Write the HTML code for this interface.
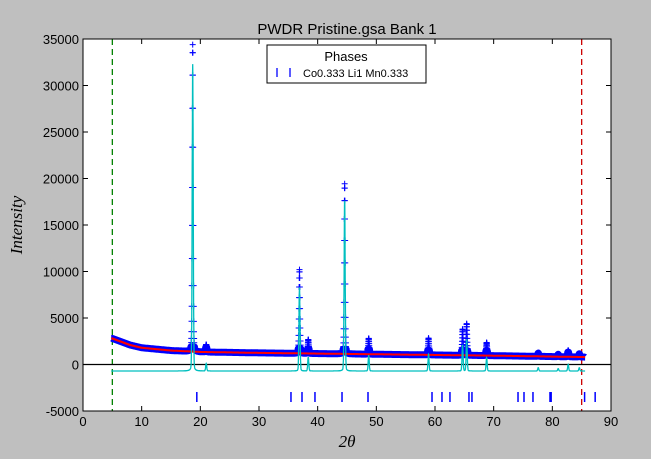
<!DOCTYPE html>
<html><head><meta charset="utf-8"><style>
body{margin:0;background:#bfbfbf;width:651px;height:454px;overflow:hidden}
svg text{font-family:"Liberation Sans",sans-serif}
</style></head><body>
<svg id="c" width="651" height="454"></svg>
<script>
const peakPos=[18.7,21.0,36.9,38.4,44.6,48.7,58.9,64.7,65.4,68.8,77.6,81.0,82.7,84.6];
const peakInt=[33000,800,9000,1500,18300,1700,1800,2800,3400,1400,350,250,700,350];
const bkgX=[5,8,10,15,20,30,50,70,85.5];
const bkgY=[2800,2100,1800,1500,1350,1250,1100,950,800];
const tickPos=[19.4,35.45,37.33,39.54,44.15,48.58,59.49,61.19,62.55,65.79,66.3,74.15,75.17,76.7,79.6,79.8,85.5,87.3];
const xTicks=[0,10,20,30,40,50,60,70,80,90];
const yTicks=[-5000,0,5000,10000,15000,20000,25000,30000,35000];
const diffOffset=-700;
const L=83,R=611,T=39,B=411;
const X=v=>L+(v-0)/90*(R-L);
const Y=v=>B-(v+5000)/40000*(B-T);
const NS='http://www.w3.org/2000/svg';
const svg=document.getElementById('c');
function el(t,a,p){const e=document.createElementNS(NS,t);for(const k in a)e.setAttribute(k,a[k]);(p||svg).appendChild(e);return e;}
function bkg(x){if(x<=bkgX[0])return bkgY[0];for(let i=1;i<bkgX.length;i++)if(x<=bkgX[i]){const f=(x-bkgX[i-1])/(bkgX[i]-bkgX[i-1]);return bkgY[i-1]+f*(bkgY[i]-bkgY[i-1]);}return bkgY[bkgY.length-1];}
function net(x){let s=0;for(let i=0;i<peakPos.length;i++){const d=(x-peakPos[i]);const g=Math.exp(-d*d/(2*0.09*0.09));const l=1/(1+(d/0.1)**2);s+=peakInt[i]*(0.88*g+0.12*l);}return s;}
let r=el('rect',{x:L,y:T,width:R-L,height:B-T,fill:'#fff'});

let g1=el('line',{x1:X(5),x2:X(5),y1:T,y2:B,stroke:'#008000','stroke-width':1.3,'stroke-dasharray':'6,4'});

let g2=el('line',{x1:X(85),x2:X(85),y1:T,y2:B,stroke:'#cc0000','stroke-width':1.3,'stroke-dasharray':'6,4'});

let z=el('line',{x1:L,x2:R,y1:Y(0),y2:Y(0),stroke:'#000','stroke-width':1.3});

let obs=[],bk=[],dif=[];
for(let x=4.8;x<=85.6;x+=0.02){const b=bkg(x),n=net(x);obs.push(X(x).toFixed(1)+','+Y(b+Math.min(n,500)).toFixed(1));bk.push(X(x).toFixed(1)+','+Y(b).toFixed(1));dif.push(X(x).toFixed(1)+','+Y(n+diffOffset).toFixed(1));}
let ob=el('polyline',{points:obs.join(' '),fill:'none',stroke:'#0000ff','stroke-width':7,'stroke-linejoin':'round'});

let mg=el('g',{stroke:'#0000ff','stroke-width':1});

for(let x=4.8;x<=85.6;x+=0.02){const n=net(x);if(n>400){const px=X(x),py=Y(bkg(x)+n);el('path',{d:`M${px-3},${py}h6M${px},${py-3}v6`},mg);}}
let bl=el('polyline',{points:bk.join(' '),fill:'none',stroke:'#ff0000','stroke-width':2});

let dl=el('polyline',{points:dif.join(' '),fill:'none',stroke:'#00bfbf','stroke-width':1.3});

let tg=el('g',{stroke:'#0000ff','stroke-width':1.5});

tickPos.forEach(p=>el('line',{x1:X(p),x2:X(p),y1:392,y2:402},tg));
let fr=el('rect',{x:L,y:T,width:R-L,height:B-T,fill:'none',stroke:'#000','stroke-width':1});

xTicks.forEach(v=>{const px=X(v);el('line',{x1:px,x2:px,y1:B,y2:B-5,stroke:'#000'});el('line',{x1:px,x2:px,y1:T,y2:T+5,stroke:'#000'});
const t=el('text',{x:px,y:B+15,'text-anchor':'middle','font-size':13});t.textContent=v;});
yTicks.forEach(v=>{const py=Y(v);el('line',{x1:L,x2:L+5,y1:py,y2:py,stroke:'#000'});el('line',{x1:R,x2:R-5,y1:py,y2:py,stroke:'#000'});
const t=el('text',{x:L-4,y:py+5,'text-anchor':'end','font-size':13});t.textContent=v;});
let ti=el('text',{x:347,y:34,'text-anchor':'middle','font-size':15});ti.textContent='PWDR Pristine.gsa Bank 1';

let xl=el('text',{x:347,y:447,'text-anchor':'middle','font-size':17,'font-style':'italic'});xl.textContent='2θ';xl.style.fontFamily='"Liberation Serif",serif';

let yl=el('text',{x:22,y:225,'text-anchor':'middle','font-size':17,'font-style':'italic',transform:'rotate(-90 22 225)'});yl.textContent='Intensity';yl.style.fontFamily='"Liberation Serif",serif';

let lg=el('g',{});
el('rect',{x:267,y:45,width:159,height:38,fill:'#fff',stroke:'#000'},lg);
let lt=el('text',{x:346,y:61,'text-anchor':'middle','font-size':13},lg);lt.textContent='Phases';

el('line',{x1:277,x2:277,y1:68,y2:77,stroke:'#0000ff','stroke-width':1.3},lg);
el('line',{x1:290,x2:290,y1:68,y2:77,stroke:'#0000ff','stroke-width':1.3},lg);
let le=el('text',{x:303,y:77,'font-size':11},lg);le.textContent='Co0.333 Li1 Mn0.333';

</script>
</body></html>
